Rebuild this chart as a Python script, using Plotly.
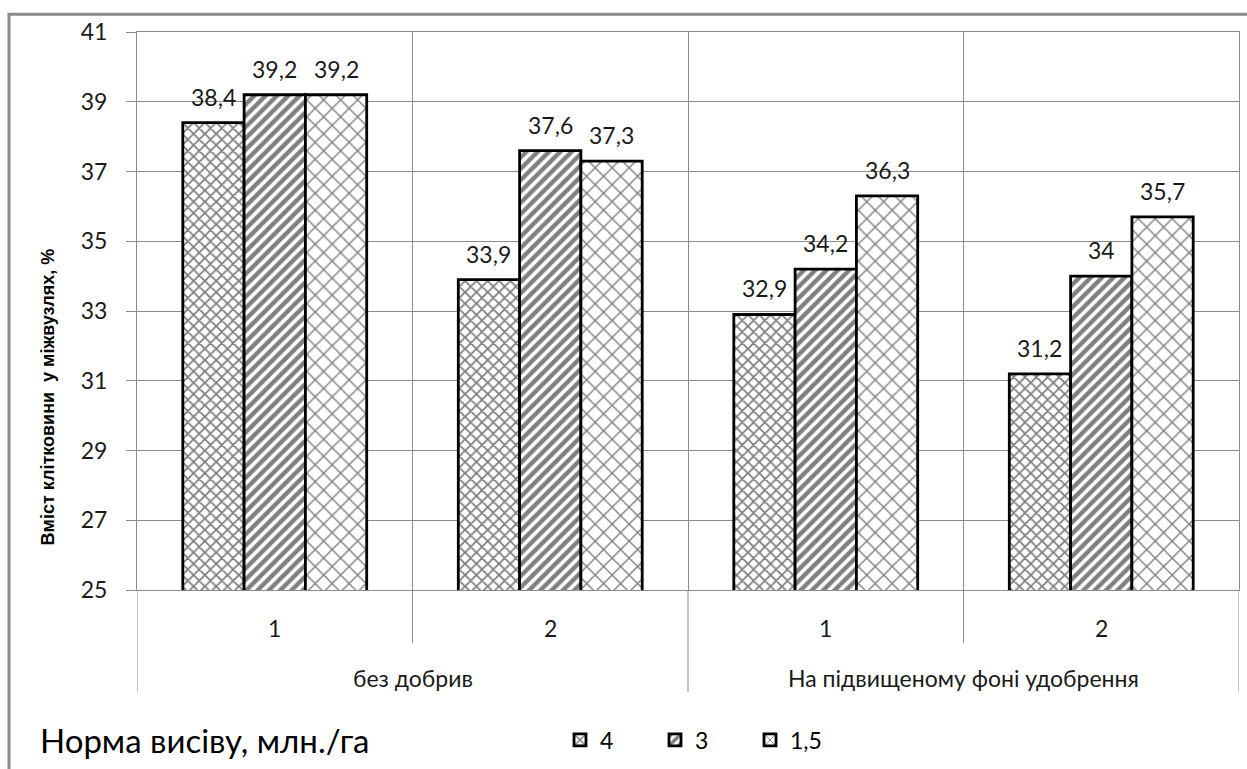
import plotly.graph_objects as go

# Grouping of the x axis: fertilisation background and sub-variant number
groups = ["без добрив", "На підвищеному фоні удобрення"]
subvariants = ["1", "2", "1", "2"]
group_of_cat = [0, 0, 1, 1]

# Seeding rate series (mln/ha) and fibre content, %
series_names = ["4", "3", "1,5"]
fibre_4 = [38.4, 33.9, 32.9, 31.2]
fibre_3 = [39.2, 37.6, 34.2, 34.0]
fibre_15 = [39.2, 37.3, 36.3, 35.7]
series_values = [fibre_4, fibre_3, fibre_15]

y_title = "Вміст клітковини  у міжвузлях, %"
legend_title = "Норма висіву, млн./га"
y_ticks = [25, 27, 29, 31, 33, 35, 37, 39, 41]

patterns = [
    dict(shape="x", size=8, solidity=0.4, fgcolor="black", bgcolor="white"),
    dict(shape="/", size=8, solidity=0.55, fgcolor="black", bgcolor="white"),
    dict(shape="x", size=12, solidity=0.22, fgcolor="black", bgcolor="white"),
]

W, H = 1247, 769
ML, MR, MT, MB = 137, 8, 32, 175
PW, PH = W - ML - MR, H - MT - MB


def px_x(p):
    return (p - ML) / PW


def px_y(p):
    return (H - MB - p) / PH


def fmt(v):
    return f"{v:g}".replace(".", ",")


BARGAP = 0.3325
n_cat = len(subvariants)
cat_x = [i + 0.5 for i in range(n_cat)]
grid = "#8c8c8c"
FONT = "Lato"
txt_col = "#1a1a1a"
FS = 23

fig = go.Figure()
for name, vals, pat in zip(series_names, series_values, patterns):
    fig.add_trace(go.Bar(
        x=cat_x, y=vals, name=name,
        marker=dict(color="white", pattern=pat,
                    line=dict(color="black", width=2.8)),
    ))

annotations = []
# Value labels above each bar
bw = (1 - BARGAP) / len(series_names)
for j, vals in enumerate(series_values):
    for i, v in enumerate(vals):
        annotations.append(dict(
            x=cat_x[i] + (j - 1) * bw, y=v, xref="x", yref="y",
            text=fmt(v), showarrow=False, yanchor="bottom", yshift=10,
            font=dict(family=FONT, size=FS, color=txt_col)))

# Sub-variant labels
for i, lab in enumerate(subvariants):
    annotations.append(dict(
        x=cat_x[i], y=px_y(632), xref="x", yref="paper", text=lab,
        showarrow=False, yanchor="middle",
        font=dict(family=FONT, size=FS, color=txt_col)))

# Group labels centred under their categories
for g, lab in enumerate(groups):
    idx = [i for i, gg in enumerate(group_of_cat) if gg == g]
    xc = (min(idx) + max(idx) + 1) / 2
    annotations.append(dict(
        x=xc, y=px_y(683), xref="x", yref="paper", text=lab,
        showarrow=False, yanchor="middle",
        font=dict(family=FONT, size=FS, color=txt_col)))

# Axis title
annotations.append(dict(
    x=px_x(48), y=px_y(400), xref="paper", yref="paper", text=f"<b>{y_title}</b>",
    textangle=-90, showarrow=False, xanchor="center", yanchor="middle",
    font=dict(family="Liberation Sans", size=18, color="black")))

# Legend caption
annotations.append(dict(
    x=px_x(38), y=px_y(745), xref="paper", yref="paper", text=legend_title,
    showarrow=False, xanchor="left", yanchor="middle",
    font=dict(family=FONT, size=33, color="black")))

shapes = []
# Divider lines below the plot area
for b in range(n_cat + 1):
    is_group_edge = b == 0 or b == n_cat or group_of_cat[b - 1] != group_of_cat[b]
    shapes.append(dict(
        type="line", xref="x", yref="paper", x0=b, x1=b,
        y0=0, y1=px_y(697) if is_group_edge else px_y(647),
        line=dict(color=grid, width=1)))

# Outer chart frame
shapes.append(dict(
    type="rect", xref="paper", yref="paper",
    x0=px_x(9), x1=px_x(1262), y0=px_y(14), y1=px_y(800),
    line=dict(color=grid, width=3), fillcolor="rgba(0,0,0,0)", layer="below"))

fig.update_layout(
    width=W, height=H,
    margin=dict(l=ML, r=MR, t=MT, b=MB),
    paper_bgcolor="white", plot_bgcolor="white",
    barmode="group", bargap=BARGAP, bargroupgap=0,
    font=dict(family=FONT, size=FS, color=txt_col),
    xaxis=dict(range=[0, n_cat], tickvals=list(range(n_cat + 1)),
               showticklabels=False, ticks="", showgrid=True,
               gridcolor=grid, gridwidth=1, zeroline=False,
               showline=True, linecolor=grid, linewidth=1, mirror=True),
    yaxis=dict(range=[25, 41], tickvals=y_ticks, showgrid=True,
               gridcolor=grid, gridwidth=1, zeroline=False,
               ticks="outside", ticklen=10, tickcolor=grid,
               ticklabelstandoff=14,
               tickfont=dict(family=FONT, size=FS, color=txt_col),
               showline=True, linecolor=grid, linewidth=1, mirror=True),
    legend=dict(orientation="h", x=px_x(560), y=px_y(745),
                xanchor="left", yanchor="middle",
                entrywidth=50, entrywidthmode="pixels",
                font=dict(family=FONT, size=FS, color="black"),
                bgcolor="rgba(0,0,0,0)"),
    annotations=annotations,
    shapes=shapes,
)

fig.write_html("out.html")
